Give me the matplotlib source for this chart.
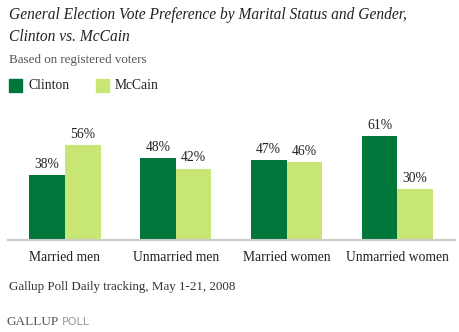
import matplotlib.pyplot as plt
import numpy as np

# Data
groups = ["Married men", "Unmarried men", "Married women", "Unmarried women"]
clinton = [38, 48, 47, 61]
mccain = [56, 42, 46, 30]

dark_green = "#00763a"
light_green = "#c8e673"
serif = ["Liberation Serif", "DejaVu Serif"]

W, H = 460, 332
fig = plt.figure(figsize=(W / 100, H / 100), dpi=100)

# axes placed in pixel terms: baseline at y=239.5, spans x 8..455
ax_left, ax_right = 8, 455
ax_bottom, ax_top = 239.5, 110
ax = fig.add_axes([ax_left / W, 1 - ax_bottom / H,
                   (ax_right - ax_left) / W, (ax_bottom - ax_top) / H])

x = np.arange(len(groups))
width = 0.322
b1 = ax.bar(x - width / 2, clinton, width, color=dark_green)
b2 = ax.bar(x + width / 2, mccain, width, color=light_green)

for bars, vals in ((b1, clinton), (b2, mccain)):
    for bar, v in zip(bars, vals):
        ax.text(bar.get_x() + bar.get_width() / 2, v + 2.5, f"{v}%",
                ha="center", va="bottom", fontsize=9.8, family=serif,
                color="#222222")

ax.set_xlim(-0.514, 3.52)
ax.set_ylim(0, (ax_bottom - ax_top) / 1.69)
ax.set_xticks(x)
ax.set_xticklabels(groups, family=serif, fontsize=9.8, color="#222222")
ax.tick_params(axis="x", length=0, pad=8)
ax.set_yticks([])
for s in ["top", "left", "right"]:
    ax.spines[s].set_visible(False)
ax.spines["bottom"].set_color("#cccccc")
ax.spines["bottom"].set_linewidth(1.5)

# titles and notes
fig.text(9 / W, 1 - 19 / H, "General Election Vote Preference by Marital Status and Gender,",
         family=serif, style="italic", fontsize=11.2, color="#222222", va="baseline")
fig.text(9 / W, 1 - 41 / H, "Clinton vs. McCain",
         family=serif, style="italic", fontsize=11.2, color="#222222", va="baseline")
fig.text(9 / W, 1 - 63 / H, "Based on registered voters",
         family=serif, fontsize=9.4, color="#555555", va="baseline")

# legend drawn by hand
fig.patches.append(plt.Rectangle((9 / W, 1 - 92 / H), 13 / W, 13 / H,
                                 transform=fig.transFigure, color=dark_green))
fig.text(29 / W, 1 - 89 / H, "Clinton", family=serif, fontsize=9.8,
         color="#222222", va="baseline")
fig.patches.append(plt.Rectangle((96 / W, 1 - 92 / H), 13 / W, 13 / H,
                                 transform=fig.transFigure, color=light_green))
fig.text(115 / W, 1 - 89 / H, "McCain", family=serif, fontsize=9.8,
         color="#222222", va="baseline")

fig.text(9 / W, 1 - 290 / H, "Gallup Poll Daily tracking, May 1-21, 2008",
         family=serif, fontsize=9.4, color="#333333", va="baseline")
fig.text(7 / W, 1 - 325 / H, "GALLUP", family=serif, fontsize=9.5,
         color="#555555", va="baseline")
fig.text(62 / W, 1 - 325 / H, "POLL", family="DejaVu Sans", fontsize=8,
         color="#999999", va="baseline")

fig.savefig("out.png", dpi=100)
